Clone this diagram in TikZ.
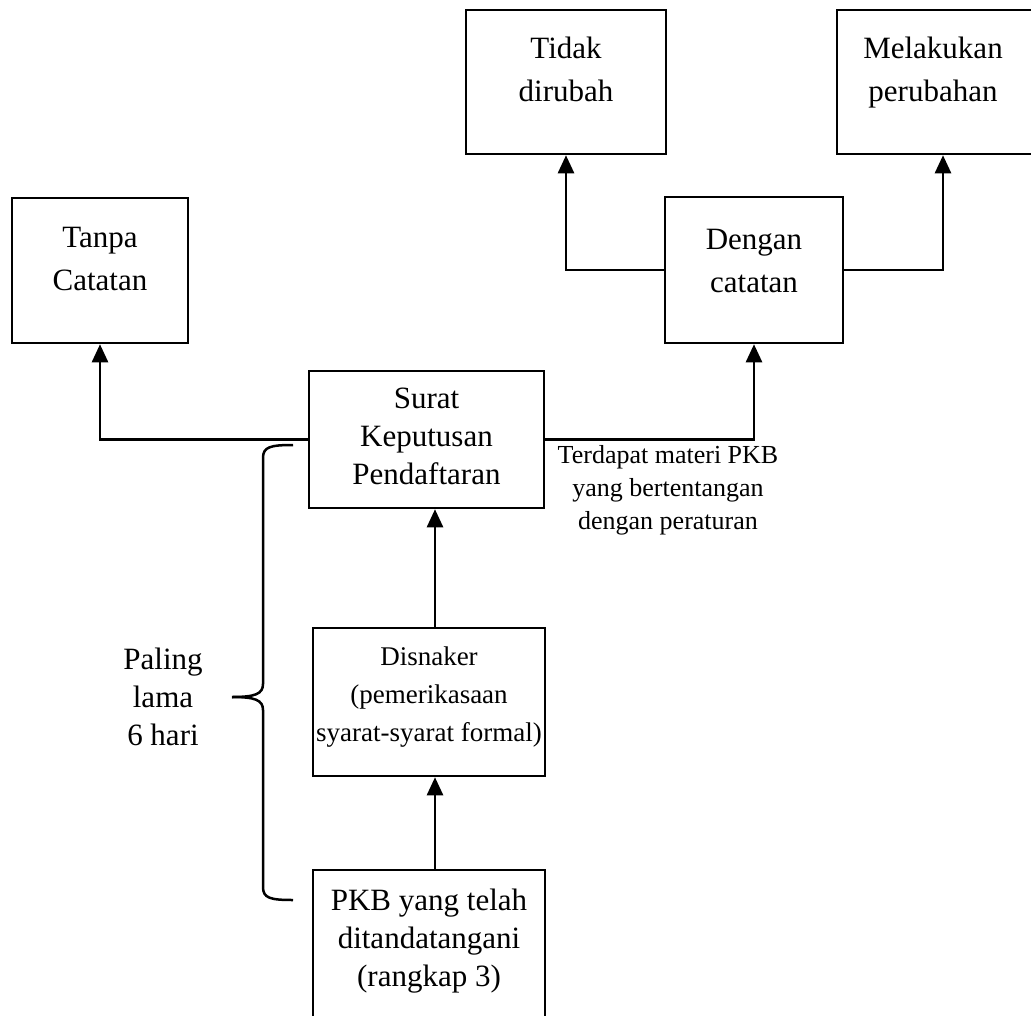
\documentclass[tikz,border=0pt]{standalone}
\usepackage{fontspec}
\setmainfont{Liberation Serif}
\usetikzlibrary{arrows.meta,positioning}
\tikzset{
  box/.style={draw, line width=2.5pt, rectangle, inner sep=0pt},
  txt/.style={align=center, inner sep=0pt, font=\fontsize{31}{38}\selectfont},
  twotxt/.style={align=center, inner sep=0pt, font=\fontsize{31}{43}\selectfont},
  smalltxt/.style={align=center, inner sep=0pt, font=\fontsize{26}{33}\selectfont},
  conn/.style={line width=2.5pt, -{Triangle[width=16pt,length=18pt]}},
  bracestyle/.style={line width=2.5pt}
}
\begin{document}
\begin{tikzpicture}[x=1pt,y=-1pt]
\path[use as bounding box] (0,0) rectangle (1031,1015);
\clip (0,0) rectangle (1031,1015);
% boxes
\node[box, minimum width=176pt, minimum height=145pt] (tanpa) at (100,270.5) {};
\node[box, minimum width=200pt, minimum height=144pt] (tidak) at (566,82) {};
\node[box, minimum width=212pt, minimum height=144pt] (melakukan) at (943,82) {};
\node[box, minimum width=178pt, minimum height=146pt] (dengan) at (754,270) {};
\node[box, minimum width=235pt, minimum height=137pt] (surat) at (426.5,439.5) {};
\node[box, minimum width=232pt, minimum height=148pt] (disnaker) at (429,702) {};
\node[box, minimum width=232pt, minimum height=170pt] (pkb) at (429,955) {};
% texts
\node[twotxt, anchor=north] (tanpaT) at ([yshift=-30pt]tanpa.north) {Tanpa\\Catatan};
\node[twotxt, anchor=north] (tidakT) at ([yshift=-28pt]tidak.north) {Tidak\\dirubah};
\node[twotxt, anchor=north] (melakukanT) at ([yshift=-28pt]melakukan.north -| 933,0) {Melakukan\\perubahan};
\node[twotxt, anchor=north] (denganT) at ([yshift=-33pt]dengan.north) {Dengan\\catatan};
\node[txt, anchor=north] (suratT) at ([yshift=-18pt]surat.north) {Surat\\Keputusan\\Pendaftaran};
\node[smalltxt, font=\fontsize{27}{38}\selectfont, anchor=north] (disnakerT) at ([yshift=-20pt]disnaker.north) {Disnaker\\(pemerikasaan\\syarat-syarat formal)};
\node[txt, anchor=north] (pkbT) at ([yshift=-20pt]pkb.north) {PKB yang telah\\ditandatangani\\(rangkap 3)};
\node[smalltxt] (label) at (668,490) {Terdapat materi PKB\\yang bertentangan\\dengan peraturan};
\node[txt] (paling) at (163,697) {Paling\\lama\\6 hari};
% connectors
\draw[conn] (surat.west) -| (tanpa.south);
\draw[conn] (surat.east) -| (dengan.south);
\draw[conn] (dengan.west) -| (tidak.south);
\draw[conn] (dengan.east) -| (melakukan.south);
\draw[conn] (disnaker.north -| 435,0) -- (surat.south -| 435,0);
\draw[conn] (pkb.north -| 435,0) -- (disnaker.south -| 435,0);
% brace
\coordinate (bt) at (293,445);
\coordinate (bb) at (293,900);
\coordinate (btip) at (232,697);
\draw[bracestyle] (bt) .. controls (270,445) and (263,447) .. (263,458) -- (263,684) .. controls (263,694) and (255,697) .. (btip);
\draw[bracestyle] (btip) .. controls (255,697) and (263,700) .. (263,710) -- (263,887) .. controls (263,898) and (270,900) .. (bb);
\end{tikzpicture}
\end{document}
